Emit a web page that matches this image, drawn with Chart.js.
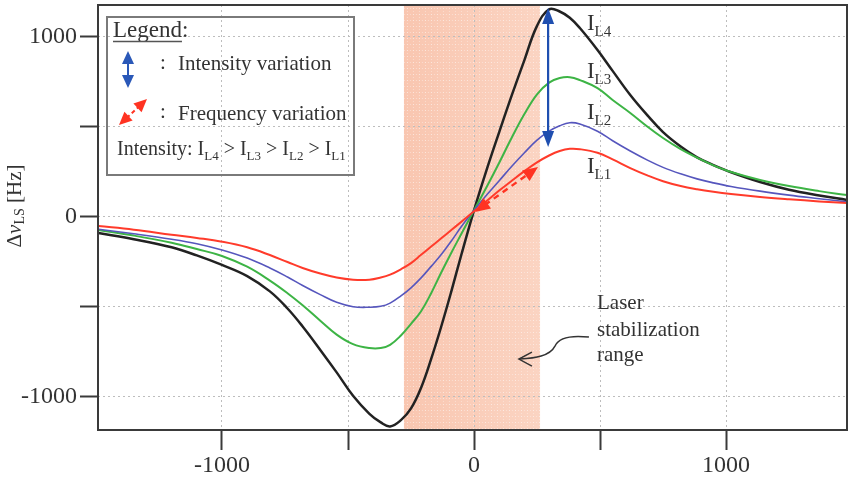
<!DOCTYPE html>
<html><head><meta charset="utf-8">
<script src="https://cdn.jsdelivr.net/npm/chart.js@4.4.0/dist/chart.umd.min.js"></script>
<style>html,body{margin:0;padding:0;background:#fff;overflow:hidden;}</style>
</head><body>
<canvas id="c" width="849" height="483"></canvas>
<script>
// ---- data ----
const detuning = [-1490,-1350,-1200,-1100,-1000,-900,-810,-740,-680,-610,-545,-480,-415,-370,-333,-290,-250,-210,-170,-130,-90,-50,0,50,100,150,200,250,298,340,380,420,490,550,620,690,750,820,885,950,1020,1135,1250,1370,1480];
const shiftIL4 = [-91,-125,-170,-215,-268,-330,-415,-510,-610,-740,-865,-995,-1095,-1143,-1165,-1130,-1065,-950,-790,-610,-415,-210,35,260,470,675,870,1060,1152,1140,1105,1048,926,810,676,560,470,390,330,287,247,193,150,118,93];
const shiftIL3 = [-74,-105,-145,-180,-218,-278,-355,-425,-492,-578,-655,-708,-730,-730,-712,-660,-595,-525,-425,-310,-200,-95,35,165,300,440,570,680,745,770,775,759,714,648,576,498,437,375,328,285,248,204,170,142,120];
const shiftIL2 = [-70,-95,-125,-150,-185,-230,-285,-335,-382,-433,-476,-500,-503,-498,-480,-440,-395,-340,-276,-210,-135,-55,35,120,200,280,355,425,475,505,522,515,475,422,365,313,274,238,210,188,168,142,120,100,82];
const shiftIL1 = [-52,-72,-100,-118,-139,-170,-213,-252,-285,-316,-338,-350,-350,-338,-322,-292,-258,-212,-166,-120,-74,-28,30,87,145,200,253,302,340,365,377,375,355,318,270,228,197,170,152,138,126,110,97,85,76];
const seriesLabels = ['L4','L3','L2','L1'];
const xTickValues = [-1000,-500,0,500,1000];
const yTickValues = [-1000,-500,0,500,1000];
const labelledTicks = [-1000,0,1000];
const stabilizationRange = [-278, 262];
const intensityArrow = {x: 294, from: 1160, to: 387};
const frequencyArrow = {fromX: 4, fromY: 26, toX: 254, toY: 276};

const SERIF = '"Liberation Serif", "Times New Roman", serif';
const TEXT = '#333';

function pts(ys){ return detuning.map((x,i)=>({x:x, y:ys[i]})); }

function head(ctx, tx, ty, ang, len, wid, color){
  ctx.save(); ctx.translate(tx,ty); ctx.rotate(ang);
  ctx.beginPath(); ctx.moveTo(0,0); ctx.lineTo(-len,-wid/2); ctx.lineTo(-len,wid/2); ctx.closePath();
  ctx.fillStyle=color; ctx.fill(); ctx.restore();
}
function dblArrow(ctx,x1,y1,x2,y2,color,width,dash,len,wid){
  const a=Math.atan2(y2-y1,x2-x1), ux=Math.cos(a), uy=Math.sin(a);
  ctx.save(); ctx.strokeStyle=color; ctx.lineWidth=width; ctx.setLineDash(dash||[]);
  ctx.beginPath(); ctx.moveTo(x1+ux*len*0.8,y1+uy*len*0.8); ctx.lineTo(x2-ux*len*0.8,y2-uy*len*0.8); ctx.stroke(); ctx.restore();
  head(ctx,x2,y2,a,len,wid,color); head(ctx,x1,y1,a+Math.PI,len,wid,color);
}
function rich(ctx, parts, x, y){
  let cx=x;
  for(const p of parts){
    ctx.font=(p.italic?'italic ':'')+p.size+'px '+SERIF;
    ctx.fillText(p.t,cx,y+(p.dy||0));
    cx+=ctx.measureText(p.t).width;
  }
  return cx;
}
function richWidth(ctx, parts){
  let w=0; for(const p of parts){ ctx.font=(p.italic?'italic ':'')+p.size+'px '+SERIF; w+=ctx.measureText(p.t).width; } return w;
}

const decor = {
  id:'decor',
  beforeDraw(chart){
    const {ctx, chartArea:ca, scales:{x}} = chart;
    const x0=x.getPixelForValue(stabilizationRange[0]), x1=x.getPixelForValue(stabilizationRange[1]);
    ctx.save();
    const g=ctx.createLinearGradient(x0,0,x1,0);
    g.addColorStop(0,'rgb(249,198,176)'); g.addColorStop(1,'rgb(251,212,194)');
    ctx.fillStyle=g; ctx.fillRect(x0,ca.top,x1-x0,ca.bottom-ca.top);
    ctx.strokeStyle='rgba(255,255,255,0.35)'; ctx.lineWidth=1; ctx.setLineDash([1,2]);
    ctx.beginPath();
    for(let px=x0+3; px<x1; px+=6){ ctx.moveTo(px+0.5,ca.top); ctx.lineTo(px+0.5,ca.bottom); }
    for(let py=ca.top+3; py<ca.bottom; py+=6){ ctx.moveTo(x0,py+0.5); ctx.lineTo(x1,py+0.5); }
    ctx.stroke();
    ctx.restore();
  },
  afterDraw(chart){
    const {ctx, chartArea:ca, scales:{x,y}} = chart;
    ctx.save();
    // frame
    ctx.strokeStyle='#3a3a3a'; ctx.lineWidth=2;
    ctx.strokeRect(ca.left, ca.top, ca.right-ca.left, ca.bottom-ca.top);

    // intensity arrow (blue)
    const bx=x.getPixelForValue(intensityArrow.x);
    dblArrow(ctx,bx,y.getPixelForValue(intensityArrow.to),bx,y.getPixelForValue(intensityArrow.from),'#1f4fb0',2.2,[],16,12);
    // frequency arrow (red dashed)
    dblArrow(ctx,x.getPixelForValue(frequencyArrow.fromX),y.getPixelForValue(frequencyArrow.fromY),
      x.getPixelForValue(frequencyArrow.toX),y.getPixelForValue(frequencyArrow.toY),'#ff3322',2.4,[6,5],15,13);

    // series labels
    ctx.fillStyle=TEXT; ctx.textBaseline='alphabetic'; ctx.textAlign='left';
    const lx=x.getPixelForValue(448);
    const lbase=[1037,770,543,245];
    seriesLabels.forEach((s,i)=>{
      const by=y.getPixelForValue(lbase[i]);
      rich(ctx,[{t:'I',size:23},{t:s,size:15,dy:6}],lx,by);
    });

    // Laser stabilization range text
    const tx=x.getPixelForValue(488);
    ctx.font='21px '+SERIF;
    ctx.fillText('Laser',tx,y.getPixelForValue(-514));
    ctx.fillText('stabilization',tx,y.getPixelForValue(-663));
    ctx.fillText('range',tx,y.getPixelForValue(-802));
    // curved pointer
    const sx=x.getPixelForValue(456), sy=y.getPixelForValue(-669);
    ctx.strokeStyle='#333'; ctx.lineWidth=1.5; ctx.setLineDash([]);
    ctx.beginPath(); ctx.moveTo(sx,sy);
    ctx.bezierCurveTo(sx-18,sy-2,sx-30,sy,sx-34,sy+9);
    ctx.bezierCurveTo(sx-39,sy+19,sx-54,sy+21,sx-69,sy+22);
    ctx.stroke();
    ctx.beginPath(); ctx.moveTo(sx-57,sy+15); ctx.lineTo(sx-70,sy+22); ctx.lineTo(sx-57,sy+29); ctx.stroke();

    // legend box
    const L=ca.left+9, T=ca.top+12, W=247, H=158;
    ctx.strokeStyle='#7a7a7a'; ctx.lineWidth=2;
    ctx.strokeRect(L,T,W,H);
    ctx.fillStyle=TEXT;
    ctx.font='23px '+SERIF;
    ctx.fillText('Legend:',L+6,T+20);
    const lw=ctx.measureText('Legend').width;
    ctx.strokeStyle='#555'; ctx.lineWidth=1.5;
    ctx.beginPath(); ctx.moveTo(L+6,T+24.5); ctx.lineTo(L+6+lw,T+24.5); ctx.stroke();
    dblArrow(ctx,L+21,T+34,L+21,T+71,'#2a58b8',2,[],13,12);
    ctx.font='21px '+SERIF;
    ctx.fillText(':',L+53,T+52);
    ctx.fillText('Intensity variation',L+71,T+53);
    dblArrow(ctx,L+12,T+108,L+40,T+82,'#ff3322',2,[4,3],13,12);
    ctx.fillText(':',L+53,T+101);
    ctx.fillText('Frequency variation',L+71,T+103);
    const parts=[{t:'Intensity: ',size:20}];
    seriesLabels.forEach((s,i)=>{
      parts.push({t:'I',size:20},{t:s,size:13,dy:5});
      if(i<seriesLabels.length-1) parts.push({t:' > ',size:20});
    });
    rich(ctx,parts,L+10,T+138);

    // y-axis title
    const tparts=[{t:'\u0394',size:21},{t:'\u03BD',size:21,italic:true},{t:'LS',size:14,dy:3},{t:' [Hz]',size:21}];
    const tw=richWidth(ctx,tparts);
    ctx.save(); ctx.translate(21,206); ctx.rotate(-Math.PI/2);
    rich(ctx,tparts,-tw/2,0);
    ctx.restore();
    ctx.restore();
  }
};

const common = {pointRadius:0, borderJoinStyle:'round', cubicInterpolationMode:'default', tension:0.4, fill:false};
new Chart(document.getElementById('c'), {
  type:'line',
  data:{datasets:[
    Object.assign({label:'IL1', data:pts(shiftIL1), borderColor:'#ff3b2b', borderWidth:2}, common),
    Object.assign({label:'IL2', data:pts(shiftIL2), borderColor:'#5656bd', borderWidth:1.6}, common),
    Object.assign({label:'IL3', data:pts(shiftIL3), borderColor:'#3db445', borderWidth:2}, common),
    Object.assign({label:'IL4', data:pts(shiftIL4), borderColor:'#222222', borderWidth:2.5}, common)
  ]},
  options:{
    responsive:false, animation:false, devicePixelRatio:1,
    layout:{padding:{top:5,right:2,left:0,bottom:0}},
    plugins:{legend:{display:false}, tooltip:{enabled:false}},
    scales:{
      x:{type:'linear', min:-1492, max:1480,
        afterBuildTicks(s){ s.ticks = xTickValues.map(v=>({value:v})); },
        afterFit(s){ s.height = 53; s.paddingLeft = 0; s.paddingRight = 0; },
        ticks:{autoSkip:false, maxRotation:0, padding:1, color:TEXT, font:{family:SERIF,size:24},
          callback:(v)=> labelledTicks.includes(v) ? String(v) : ''},
        grid:{color:'#bdbdbd', lineWidth:1, drawTicks:true, tickLength:20, tickColor:'#3a3a3a', tickWidth:2, tickBorderDash:[]},
        border:{display:false, dash:[2,3]}
      },
      y:{type:'linear', min:-1185, max:1176,
        afterBuildTicks(s){ s.ticks = yTickValues.map(v=>({value:v})); },
        afterFit(s){ s.width = 98; s.paddingTop = 0; s.paddingBottom = 0; },
        ticks:{autoSkip:false, padding:3, color:TEXT, font:{family:SERIF,size:24},
          callback:(v)=> labelledTicks.includes(v) ? String(v) : ''},
        grid:{color:'#bdbdbd', lineWidth:1, drawTicks:true, tickLength:18, tickColor:'#3a3a3a', tickWidth:2, tickBorderDash:[]},
        border:{display:false, dash:[2,3]}
      }
    }
  },
  plugins:[decor]
});
</script>
</body></html>
